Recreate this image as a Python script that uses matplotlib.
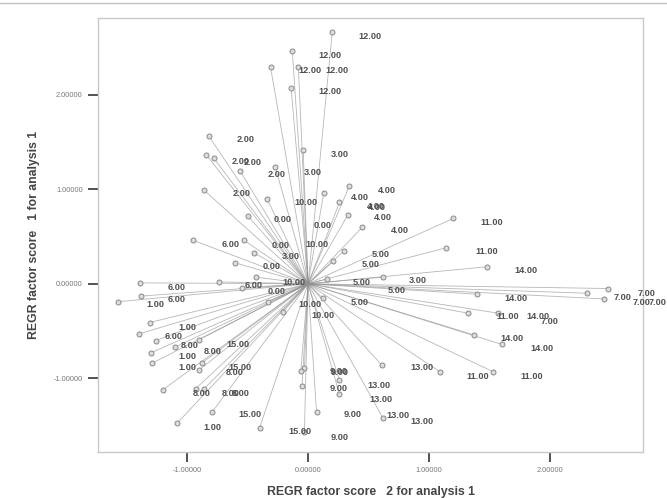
import matplotlib

matplotlib.use("Agg")
import matplotlib.pyplot as plt
from matplotlib.lines import Line2D

plt.rcParams["font.family"] = ["Liberation Sans", "DejaVu Sans"]

# factor scores of the cases (x = factor 2, y = factor 1)
score2 = [
    0.20, -0.13, -0.31, -0.08, -0.14,
    -0.82, -0.84, -0.78, -0.56, -0.86, -0.27, -0.34, -0.50,
    -0.04,
    0.13, 0.34, 0.26, 0.33, 0.45, 1.20, 1.14, 1.48, 0.62, 0.30, 0.21, 0.16,
    1.40, 2.31, 2.48, 2.45, 1.32, 1.57, 1.37, 1.60, 0.61, 1.09, 1.53, 0.12,
    0.26, 0.26, 0.62, 0.07, -0.03, -0.06, -0.05, -0.03, -0.40, -0.33, -0.21,
    -0.95, -0.53, -0.45, -0.60, -0.43, -0.55, -0.74, -1.39, -1.38, -1.57,
    -1.31, -1.40, -1.26, -1.10, -1.30, -1.29, -0.90, -0.88, -0.90, -1.20,
    -0.93, -0.86, -0.79, -1.08,
]
score1 = [
    2.66, 2.46, 2.29, 2.29, 2.07,
    1.56, 1.36, 1.33, 1.19, 0.99, 1.23, 0.90, 0.72,
    1.41,
    0.96, 1.03, 0.86, 0.73, 0.60, 0.69, 0.38, 0.18, 0.07, 0.35, 0.24, 0.05,
    -0.11, -0.10, -0.05, -0.16, -0.31, -0.31, -0.54, -0.64, -0.86, -0.93, -0.93, -0.15,
    -1.02, -1.17, -1.42, -1.35, -0.89, -0.92, -1.08, -1.57, -1.52, -0.19, -0.30,
    0.46, 0.46, 0.33, 0.22, 0.07, -0.04, 0.02, 0.01, -0.13, -0.19,
    -0.41, -0.53, -0.60, -0.67, -0.73, -0.84, -0.59, -0.84, -0.91, -1.12,
    -1.11, -1.11, -1.35, -1.47,
]

# group value labels and where they are printed
label_text = (
    ["12.00"] * 5 + ["2.00"] * 5 + ["3.00"] * 4 + ["4.00"] * 6 + ["10.00"] * 5
    + ["0.00"] * 5 + ["6.00"] * 5 + ["11.00"] * 5 + ["5.00"] * 5 + ["14.00"] * 5
    + ["7.00"] * 5 + ["1.00"] * 5 + ["8.00"] * 6 + ["15.00"] * 4 + ["9.00"] * 5
    + ["13.00"] * 5
)
label_x = [
    0.51, 0.18, 0.02, 0.24, 0.18,
    -0.52, -0.56, -0.46, -0.26, -0.55,
    0.26, 0.04, -0.14, 0.91,
    0.65, 0.43, 0.56, 0.57, 0.62, 0.76,
    -0.02, 0.07, -0.12, 0.02, 0.12,
    -0.21, 0.12, -0.23, -0.30, -0.26,
    -0.64, -1.09, -0.45, -1.09, -1.11,
    1.52, 1.48, 1.65, 1.40, 1.85,
    0.60, 0.52, 0.44, 0.73, 0.43,
    1.80, 1.72, 1.90, 1.69, 1.93,
    2.60, 2.80, 2.76, 2.89, 2.00,
    -1.26, -1.00, -1.00, -1.00, -0.79,
    -0.98, -0.79, -0.61, -0.88, -0.64, -0.56,
    -0.58, -0.56, -0.48, -0.07,
    0.25, 0.26, 0.25, 0.37, 0.26,
    0.94, 0.59, 0.60, 0.74, 0.94,
]
label_y = [
    2.61, 2.41, 2.25, 2.25, 2.03,
    1.52, 1.29, 1.28, 1.15, 0.95,
    1.37, 1.18, 0.29, 0.03,
    0.99, 0.91, 0.82, 0.81, 0.70, 0.56,
    0.86, 0.41, 0.01, -0.22, -0.34,
    0.68, 0.62, 0.40, 0.18, -0.08,
    0.41, -0.04, -0.02, -0.17, -0.56,
    0.65, 0.34, -0.35, -0.98, -0.98,
    0.31, 0.20, 0.01, -0.07, -0.20,
    0.14, -0.16, -0.35, -0.58, -0.68,
    -0.15, -0.10, -0.20, -0.20, -0.40,
    -0.22, -0.46, -0.77, -0.89, -1.52,
    -0.65, -0.72, -0.94, -1.16, -1.16, -1.16,
    -0.64, -0.88, -1.38, -1.56,
    -0.93, -0.94, -1.11, -1.38, -1.63,
    -0.89, -1.07, -1.22, -1.39, -1.46,
]

x_ticks = [-1.0, 0.0, 1.0, 2.0]
y_ticks = [-1.0, 0.0, 1.0, 2.0]
center = (0.0, 0.0)


def main() -> None:
    fig = plt.figure(figsize=(6.67, 4.98), dpi=100)
    ax = fig.add_axes([0.147, 0.092, 0.817, 0.872])

    # centroid lines
    for x, y in zip(score2, score1):
        ax.plot([center[0], x], [center[1], y], color="#909090", lw=0.6,
                alpha=0.65, zorder=1)

    ax.plot(score2, score1, linestyle="none", marker="o", markersize=3.6,
            markerfacecolor="#dcdcdc", markeredgecolor="#8a8a8a",
            markeredgewidth=0.7, zorder=2)

    for t, x, y in zip(label_text, label_x, label_y):
        ax.text(x, y, t, ha="center", va="center", fontsize=6.6,
                fontweight="bold", color="#505050", zorder=3, clip_on=False)

    ax.set_xlim(-1.736, 2.769)
    ax.set_ylim(-1.78, 2.81)
    ax.set_xticks(x_ticks)
    ax.set_yticks(y_ticks)
    ax.set_xticklabels([f"{v:.5f}" for v in x_ticks])
    ax.set_yticklabels([f"{v:.5f}" for v in y_ticks])
    ax.tick_params(axis="both", direction="out", length=7, width=1.3,
                   color="#444444", labelsize=5.3, labelcolor="#777777", pad=4)

    for s in ax.spines.values():
        s.set_color("#c8c8c8")
        s.set_linewidth(1.0)

    ax.set_xlabel("REGR factor score   2 for analysis 1", fontsize=8.8,
                  fontweight="bold", color="#444444", labelpad=8)
    ax.set_ylabel("REGR factor score   1 for analysis 1", fontsize=8.8,
                  fontweight="bold", color="#444444", labelpad=10)

    # scan border at the top
    fig.add_artist(Line2D([0.0, 1.0], [0.994, 0.994], color="#c0c0c0", lw=1.0,
                          transform=fig.transFigure))

    fig.savefig("out.png", dpi=100)
    plt.close(fig)


if __name__ == "__main__":
    main()
